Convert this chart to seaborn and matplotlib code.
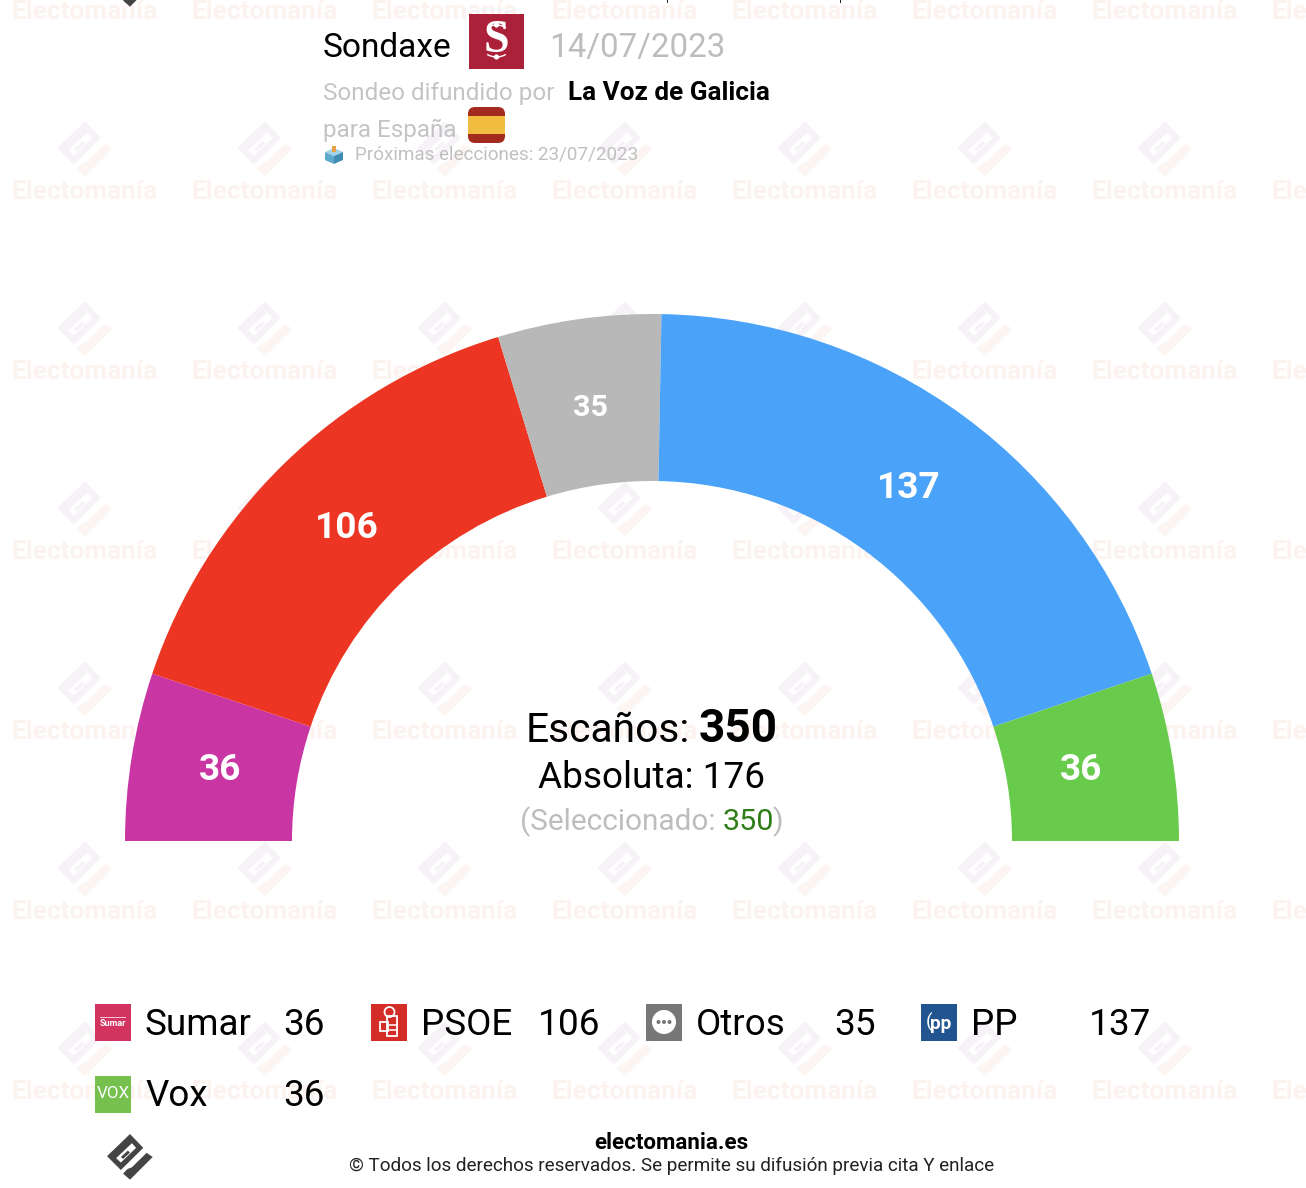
import numpy as np
import matplotlib
matplotlib.use("Agg")
import matplotlib.pyplot as plt
from matplotlib.patches import Polygon, Rectangle, FancyBboxPatch, Circle, Arc
import seaborn as sns

# ---- data ----
parties = ["Sumar", "PSOE", "Otros", "PP", "Vox"]
seats = [36, 106, 35, 137, 36]
wedge_colors = ["#c936a4", "#ec3623", "#b8b8b8", "#4aa3f9", "#68cb4c"]
icon_colors = ["#d2335f", "#d42c26", "#777777", "#22548f", "#76c04e"]
majority = 176
selected = 350
pollster = "Sondaxe"
poll_date = "14/07/2023"
media = "La Voz de Galicia"
next_election = "23/07/2023"

W, H = 1306, 1188
sns.set_theme(style="white")
plt.rcParams["font.family"] = ["Roboto", "DejaVu Sans"]

fig = plt.figure(figsize=(W / 100, H / 100), dpi=100, facecolor="white")
ax = fig.add_axes([0, 0, 1, 1])


def Y(y):
    return H - y


def T(x, y, s, size, color="black", weight="normal", ha="left", va="baseline", z=10, **kw):
    # size given in px
    return ax.text(x, Y(y), s, fontsize=size * 0.72, color=color, fontweight=weight,
                   ha=ha, va=va, zorder=z, **kw)


# ---- donut ----
cx, cy, R, r_in = 652, 841, 527, 360
total = sum(seats)
wedges, _ = ax.pie(seats + [total], colors=wedge_colors + ["none"], radius=R,
                   center=(cx, Y(cy)), startangle=180, counterclock=False,
                   wedgeprops=dict(width=R - r_in, linewidth=0, zorder=5))
ax.set_xlim(0, W)
ax.set_ylim(0, H)
ax.set_aspect("auto")
ax.axis("off")

cum = np.cumsum([0] + seats)
for i, v in enumerate(seats):
    a = np.pi * (1 - (cum[i] + cum[i + 1]) / 2 / total)
    sz = 37 if v != 35 else 30.5
    T(cx - 1.5 + 436 * np.cos(a), cy - 1 - 436 * np.sin(a), str(v), sz, "white", "bold",
      ha="center", va="center", z=8)


# ---- logo of the brand ----
ICON_MAIN = [(0, -83), (48, -33), (-33, 47), (-83, -3)]
ICON_HOLE = [(-50, 4), (7, -50), (22, -33), (-33, 20)]
ICON_BAR = [(-33, 0), (-8, -23), (0, -16), (-25, 7)]
ICON_TAIL = [(-25, 60), (0, 82), (82, 0), (60, -15), (7, 37), (-10, 44)]


def brand(x, y, s, main, tail, z=1):
    f = lambda pts: [(x + px * s / 3, Y(y + py * s / 3)) for px, py in pts]
    ax.add_patch(Polygon(f(ICON_MAIN), closed=True, fc=main, ec="none", zorder=z))
    ax.add_patch(Polygon(f(ICON_HOLE), closed=True, fc="white", ec="none", zorder=z))
    ax.add_patch(Polygon(f(ICON_BAR), closed=True, fc=main, ec="none", zorder=z))
    ax.add_patch(Polygon(f(ICON_TAIL), closed=True, fc=tail, ec="none", zorder=z))


# ---- watermark ----
for ty in range(10, 1100, 180):
    for tx in range(85, 1400, 180):
        brand(tx, ty - 41, 1.0, "#f6f2f7", "#fcf5f1")
        T(tx - 0.5, ty + 9, "Electomanía", 26.3, "#fcf3f0", "bold", ha="center", z=1, clip_on=True)

brand(130, -16, 0.83, "#444444", "#444444", z=3)
brand(130, 1157, 0.83, "#444444", "#444444", z=3)
for mx in (667, 840):
    ax.add_patch(Rectangle((mx - 0.5, Y(2.5)), 1.2, 2.5, fc="#222222", ec="none", zorder=3))

# ---- header ----
T(323, 57, pollster, 33.5)
ax.add_patch(Rectangle((469, Y(69)), 55, 55, fc="#ab2139", ec="none", zorder=6))
T(496.5, 41.5, "S", 46, "white", "bold", ha="center", va="center", z=7,
  family="Liberation Serif")
for dy in (25, 57):
    ax.add_patch(Circle((496.5, Y(dy)), 2.6, fc="white", ec="none", zorder=7))
ax.add_patch(Arc((496.5, Y(41)), 34, 32, theta1=55, theta2=125, color="white", lw=1, zorder=7))
ax.add_patch(Arc((496.5, Y(41)), 34, 32, theta1=235, theta2=305, color="white", lw=1, zorder=7))
T(549, 57, poll_date, 33.2, "#bdbdbd")
T(323, 100, "Sondeo difundido por", 24.3, "#c4c4c4")
T(568, 100, media, 26.1, "black", "bold")
T(323, 137, "para España", 24.3, "#c4c4c4")
ax.add_patch(FancyBboxPatch((468, Y(143)), 37, 36, boxstyle="round,pad=0,rounding_size=7",
                            fc="#a32a1f", ec="none", zorder=6))
ax.add_patch(Rectangle((468, Y(134)), 37, 18, fc="#f0bd41", ec="none", zorder=7))
# ballot box
ax.add_patch(Polygon([(325, Y(152)), (334, Y(148)), (343, Y(152)), (334, Y(156))],
                     fc="#a5d3e6", ec="none", zorder=6))
ax.add_patch(Polygon([(325, Y(152)), (334, Y(156)), (334, Y(164)), (325, Y(160))],
                     fc="#5fa9cc", ec="none", zorder=6))
ax.add_patch(Polygon([(343, Y(152)), (334, Y(156)), (334, Y(164)), (343, Y(160))],
                     fc="#3f8db5", ec="none", zorder=6))
ax.add_patch(Rectangle((332, Y(152)), 4, 6, fc="#e8a24a", ec="none", zorder=7))
T(355, 159.5, f"Próximas elecciones: {next_election}", 18.9, "#c0c0c0")

# ---- centre ----
T(690, 742.5, "Escaños:", 40.7, ha="right")
T(699, 742.5, str(total), 46, "black", "bold")
T(652, 787.5, f"Absoluta: {majority}", 37, ha="center")
T(520, 830, "(Seleccionado:", 29.8, "#bdbdbd")
T(723, 830, str(selected), 30.5, "#2e7d17")
T(772, 830, ")", 30.5, "#bdbdbd")

# ---- legend ----
col_x = [95, 370.5, 646, 921, 95]
row_y = [1004, 1004, 1004, 1004, 1076]
val_x = [324.5, 600.5, 876, 1151.5, 324.5]
text_dy = [31, 31, 31, 31, 30]
for name, v, c, x, y, vx, dy in zip(parties, seats, icon_colors, col_x, row_y, val_x, text_dy):
    ax.add_patch(Rectangle((x, Y(y + 36.5)), 36, 36.5, fc=c, ec="none", zorder=6))
    T(x + 50, y + dy, name, 36.7)
    T(vx, y + dy, str(v), 37, ha="right")
    mx, my = x + 18, y + 18
    if name == "Sumar":
        ax.add_patch(Rectangle((x + 5, Y(y + 14)), 26, 1, fc="#f6c3d2", ec="none", zorder=7))
        T(mx, my + 1, "Sumar", 9, "white", "bold", ha="center", va="center", z=7)
    elif name == "PSOE":
        ax.add_patch(Circle((mx + 1, Y(my - 10)), 5, fc="none", ec="white", lw=1.3, zorder=7))
        ax.add_patch(Rectangle((mx - 2, Y(my + 14)), 10, 20, fc="none", ec="white", lw=1.3, zorder=7))
        ax.add_patch(Rectangle((mx - 9, Y(my + 9)), 8, 9, fc="none", ec="white", lw=1.3, zorder=7))
        ax.plot([mx - 2, mx + 8], [Y(my + 3), Y(my + 3)], color="white", lw=1.1, zorder=7)
        ax.plot([mx - 2, mx + 8], [Y(my + 8), Y(my + 8)], color="white", lw=1.1, zorder=7)
    elif name == "Otros":
        ax.add_patch(Circle((mx, Y(my)), 12, fc="white", ec="none", zorder=7))
        for d in (-5.5, 0, 5.5):
            ax.add_patch(Circle((mx + d, Y(my)), 2, fc="#777777", ec="none", zorder=8))
    elif name == "PP":
        T(mx + 2, my + 2, "pp", 19, "white", "bold", ha="center", va="center", z=7)
        T(mx - 10, my, "(", 19, "white", "normal", ha="center", va="center", z=7)
    elif name == "Vox":
        T(mx, my, "VOX", 17, "white", "normal", ha="center", va="center", z=7)

# ---- footer ----
T(671.5, 1149, "electomania.es", 22.4, "black", "bold", ha="center")
T(671.5, 1171, "© Todos los derechos reservados. Se permite su difusión previa cita Y enlace",
  18.85, "#222222", ha="center")

fig.savefig("out.png", dpi=100, facecolor="white")
